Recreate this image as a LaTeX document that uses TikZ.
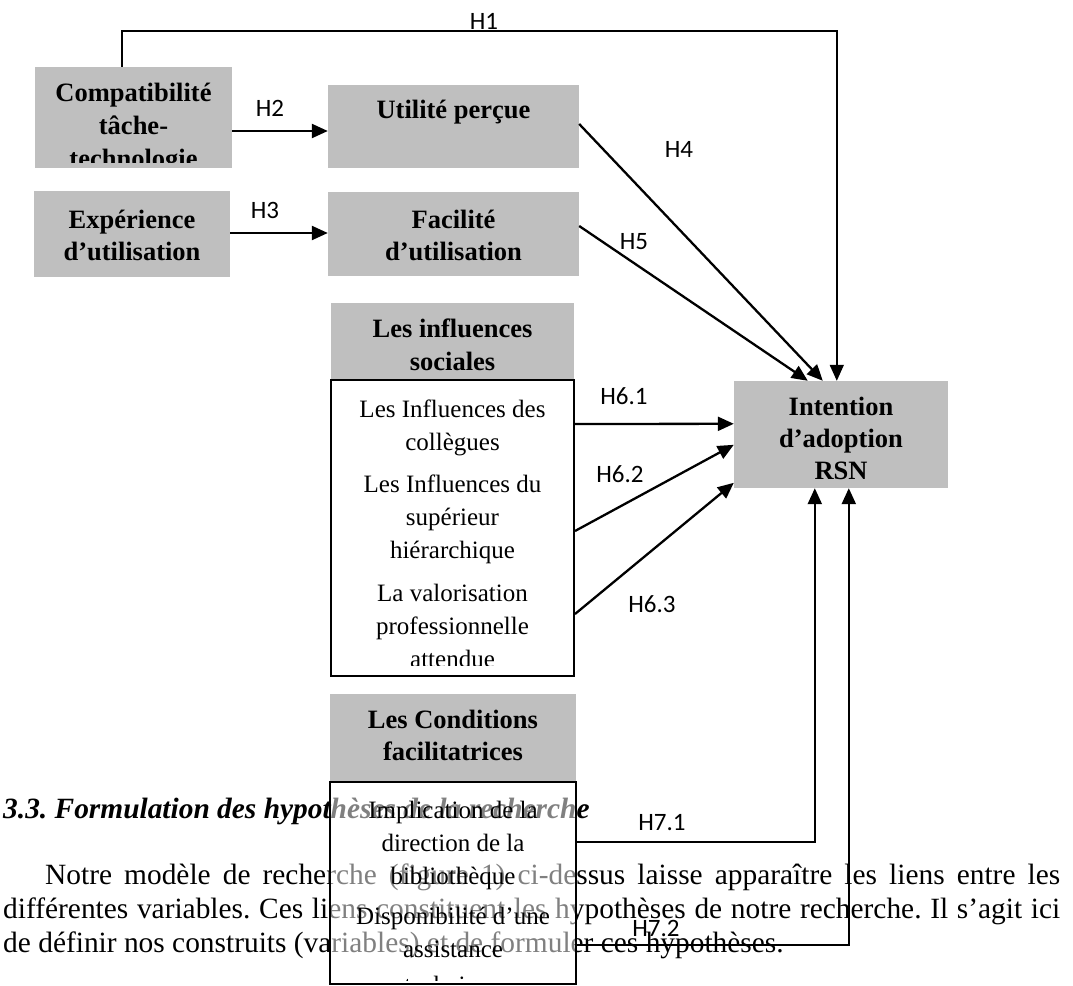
\documentclass[tikz,border=0pt]{standalone}
\usepackage{fontspec}
\setmainfont{Liberation Serif}
\newfontfamily\labelfont{Carlito}
\usetikzlibrary{arrows.meta}
\definecolor{boxgray}{RGB}{191,191,191}
\tikzset{
  graybox/.style={fill=boxgray, inner sep=0pt},
  listbox/.style={draw=black, line width=2pt, inner sep=0pt},
  boxtext/.style={inner sep=0pt, anchor=base, font=\fontsize{25}{33}\selectfont},
  boldtext/.style={boxtext, font=\bfseries\fontsize{26.5}{33}\selectfont},
  hyp/.style={inner sep=0pt, font=\labelfont\fontsize{25}{30}\selectfont},
  link/.style={line width=2.3pt, -{Triangle[length=16pt,width=14pt]}},
  bodytext/.style={inner sep=0pt, anchor=base west, font=\frenchspacing\fontsize{29.4}{34}\selectfont},
}

\begin{document}
\begin{tikzpicture}[x=1pt,y=-1pt]
	\useasboundingbox (0,0) rectangle (1073,985);
	\fill[white] (0,0) rectangle (1073,985);
	
	% boxes
	\node[graybox, minimum width=197pt, minimum height=101pt] (compat) at (133.5,117.5) {};
	\node[graybox, minimum width=251pt, minimum height=83pt] (util) at (453.5,126.5) {};
	\node[graybox, minimum width=196pt, minimum height=86pt] (exper) at (132,234) {};
	\node[graybox, minimum width=251pt, minimum height=84pt] (facil) at (453.5,234) {};
	\node[graybox, minimum width=243pt, minimum height=77pt] (inflhead) at (452.5,341.5) {};
	\node[listbox, fill=white, minimum width=243pt, minimum height=296pt] (inflbox) at (452.5,528) {};
	\node[graybox, minimum width=214pt, minimum height=107pt] (inten) at (841,434.5) {};
	\node[graybox, minimum width=246pt, minimum height=88pt] (condhead) at (453,738) {};
	
	% box texts
	\begin{scope}
		\clip (35,67) rectangle (232,162);
		\foreach \y/\t [count=\i] in {101/Compatibilité, 134/tâche-, 167/technologie}
			\node[boldtext] (compat-\i) at (133.5,\y) {\t};
	\end{scope}
	\node[boldtext] (util-1) at (453.5,118) {Utilité perçue};
	\node[boldtext] (exper-1) at (132,228) {Expérience};
	\node[boldtext] (exper-2) at (132,260) {d’utilisation};
	\node[boldtext] (facil-1) at (453.5,228) {Facilité};
	\node[boldtext] (facil-2) at (453.5,260) {d’utilisation};
	\node[boldtext] (inflhead-1) at (452.5,337) {Les influences};
	\node[boldtext] (inflhead-2) at (452.5,370) {sociales};
	\begin{scope}
		\clip (331,380) rectangle (574,665);
		\foreach \y/\t [count=\i] in {417/Les Influences des, 450/collègues, 492/Les Influences du, 525/supérieur, 558/hiérarchique, 601/La valorisation, 634/professionnelle, 667/attendue}
			\node[boxtext] (infl-\i) at (452.5,\y) {\t};
	\end{scope}
	\foreach \y/\t [count=\i] in {415/Intention, 447/d’adoption, 479/RSN}
		\node[boldtext] (inten-\i) at (841,\y) {\t};
	\node[boldtext] (condhead-1) at (453,728) {Les Conditions};
	\node[boldtext] (condhead-2) at (453,760) {facilitatrices};
	
	% text of the page behind
	\node[bodytext, font=\frenchspacing\bfseries\itshape\fontsize{29.4}{34}\selectfont] (heading) at (3,818) {3.3. Formulation des hypothèses de la recherche};
	\node[bodytext] (para-1) at (45,884) {\makebox[1015pt][s]{Notre modèle de recherche (figure 1) ci-dessus laisse apparaître les liens entre les}};
	\node[bodytext] (para-2) at (3,918) {\makebox[1057pt][s]{différentes variables. Ces liens constituent les hypothèses de notre recherche. Il s’agit ici}};
	\node[bodytext] (para-3) at (3,952) {de définir nos construits (variables) et de formuler ces hypothèses.};
	
	\node[listbox, fill=white, fill opacity=0.5, minimum width=246pt, minimum height=202pt] (condbox) at (453,883) {};
	\begin{scope}
		\clip (330,782) rectangle (576,980);
		\foreach \y/\t [count=\i] in {818/Implication de la, 851/direction de la, 884/bibliothèque, 924/Disponibilité d’une, 957/assistance, 993/technique}
			\node[boxtext] (cond-\i) at (453,\y) {\t};
	\end{scope}
	
	% hypotheses
	\draw[line width=1.6pt, -{Triangle[length=16pt,width=14pt]}] ([xshift=-11.5pt]compat.north) -- ++(0,-36) -| ([xshift=103pt]inten.north west);
	\draw[link] ([yshift=-13.5pt]compat.east) -- ([yshift=-4.5pt]util.west);
	\draw[link] ([yshift=1pt]exper.east) -- ([yshift=1pt]facil.west);
	\draw[link] ([yshift=2.5pt]util.east) -- ([xshift=89pt]inten.north west);
	\draw[link] ([yshift=8pt]facil.east) -- ([xshift=74pt]inten.north west);
	\draw[link] ([yshift=-45pt]inflbox.north east) -- ([yshift=-43pt]inten.north west);
	\draw[link] ([yshift=-152pt]inflbox.north east) -- ([yshift=-64pt]inten.north west);
	\draw[link] ([yshift=-235pt]inflbox.north east) -- ([yshift=-102pt]inten.north west);
	\draw[link] ([yshift=41pt]condbox.east) -| ([xshift=81pt]inten.south west);
	\draw[link] ([yshift=-62pt]condbox.east) -| ([xshift=115pt]inten.south west);
	
	\node[hyp] (h1) at (484,21) {H1};
	\node[hyp] (h2) at (270,108) {H2};
	\node[hyp] (h3) at (265,210) {H3};
	\node[hyp] (h4) at (679,149) {H4};
	\node[hyp] (h5) at (634,242) {H5};
	\node[hyp] (h61) at (624,396) {H6.1};
	\node[hyp] (h62) at (620,474) {H6.2};
	\node[hyp] (h63) at (652,604) {H6.3};
	\node[hyp] (h71) at (662,823) {H7.1};
	\node[hyp] (h72) at (656,928) {H7.2};
\end{tikzpicture}
\end{document}
